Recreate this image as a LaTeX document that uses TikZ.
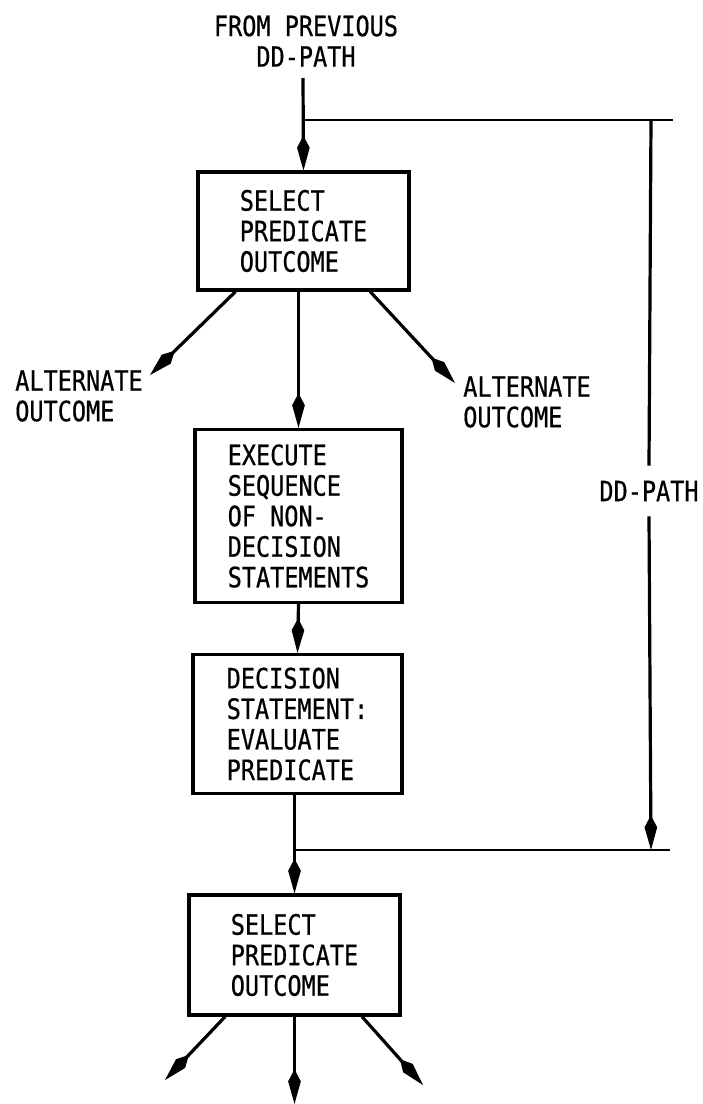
\documentclass[tikz,border=0pt]{standalone}
\usepackage{fontspec}
\newfontfamily\plotfont[FakeStretch=0.84,FakeBold=0.6]{DejaVu Sans Mono}
\usetikzlibrary{arrows.meta}
\begin{document}
\begin{tikzpicture}[x=0.75pt,y=-0.75pt,
  every node/.style={font=\plotfont\fontsize{21pt}{22.9pt}\selectfont},
  ln/.style={line width=2.4pt},
  thin ln/.style={line width=1.9pt},
  arr/.style={ln,-{Kite[length=26pt,width=9.5pt,inset=9pt]}},
  box/.style={draw,line width=2.4pt,align=left,inner sep=0pt},
  lbl/.style={align=left,inner sep=0pt}]
\useasboundingbox (0,0) rectangle (703,1104);

% heading
\node[align=center,inner sep=0pt] (src) at (306,41) {FROM PREVIOUS\\DD-PATH};

% process boxes
\node[box,minimum width=158.25pt,minimum height=88.5pt] (b1) at (303.5,231)
  {SELECT\\PREDICATE\\OUTCOME};
\node[box,minimum width=155.25pt,minimum height=129.75pt] (b2) at (298.5,516)
  {EXECUTE\\SEQUENCE\\OF NON-\\DECISION\\STATEMENTS};
\node[box,minimum width=156.75pt,minimum height=104.25pt] (b3) at (297.5,724)
  {DECISION\\STATEMENT:\\EVALUATE\\PREDICATE};
\node[box,minimum width=158.25pt,minimum height=90pt] (b4) at (294.5,955)
  {SELECT\\PREDICATE\\OUTCOME};

% side labels
\node[lbl,anchor=north west] (tL) at (15,370) {ALTERNATE\\OUTCOME};
\node[lbl,anchor=north west] (tR) at (463,376) {ALTERNATE\\OUTCOME};
\node[inner sep=0pt,minimum height=37.5pt] (ddp) at (649,491) {DD-PATH};

% connector end points
\coordinate (in) at (303,78);
\coordinate (j1) at (303,120);
\coordinate (tr) at (673,120);
\coordinate (bt) at (651,120);
\coordinate (bb) at (651,850);
\coordinate (j2) at (294.5,850);
\coordinate (br) at (670,850);
\coordinate (aL) at (150,375);
\coordinate (aR) at (455,383);
\coordinate (oL) at (165,1080);
\coordinate (oM) at (294.5,1104);
\coordinate (oR) at (423,1085);

% main flow
\draw[arr] (in) -- (b1.north);
\draw[arr] (b2.north |- b1.south) -- (b2.north);
\draw[arr] (b2.south) -- (b3.north);
\draw[arr] (b4.north |- b3.south) -- (b4.north);

% alternate outcomes
\draw[arr] ([xshift=-51pt]b1.south) -- (aL);
\draw[arr] ([xshift=50pt]b1.south) -- (aR);
\draw[arr] ([xshift=-52pt]b4.south) -- (oL);
\draw[arr] (b4.south) -- (oM);
\draw[arr] ([xshift=50.6pt]b4.south) -- (oR);

% DD-path extent bracket
\draw[thin ln] (j1) -- (tr);
\draw[thin ln] (j2) -- (br);
\draw[ln] (bt) -- (ddp.north);
\draw[arr] (ddp.south) -- (bb);
\end{tikzpicture}
\end{document}
